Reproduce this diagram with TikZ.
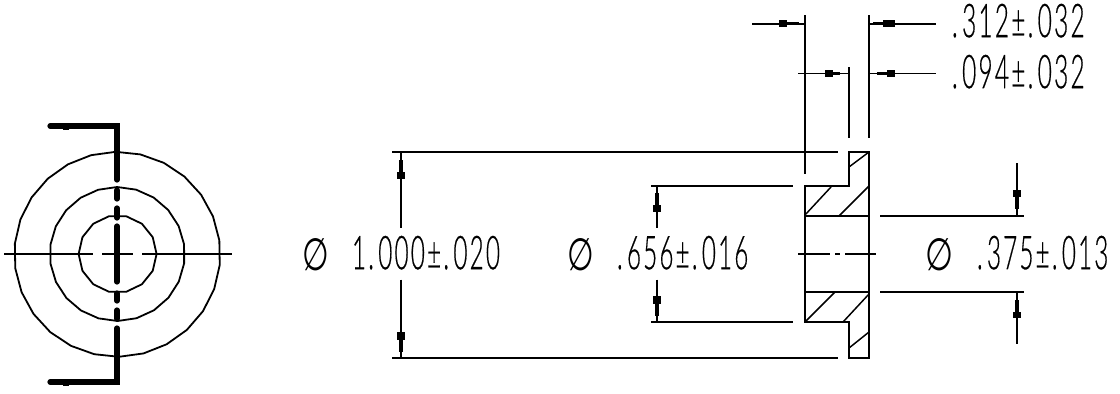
\documentclass[tikz,border=0pt]{standalone}
\usepackage{fontspec}
\usepackage{graphicx}
\setmainfont[LetterSpace=9,Numbers={Lining,Monospaced},FakeBold=0.6]{Lato Light}
\newfontfamily\symfont{DejaVu Sans}
\tikzset{
  px/.style={x=0.75pt,y=-0.75pt},
  thin line/.style={line width=1.35pt,line cap=butt,black},
  thick section/.style={line width=3.9pt,line cap=round,line join=miter,black},
  centre/.style={line width=1.25pt,black},
  hatch/.style={line width=1.1pt,black},
  lbl/.style={anchor=south west,inner sep=0pt,outer sep=0pt,black},
}
\newcommand{\vhead}[5]{%
  \fill (#1-4,#2) rectangle (#1+4,#3);
  \fill (#1-1.9,#4) rectangle (#1+1.9,#5);}
\newcommand{\hhead}[5]{%
  \fill (#2,#1-3.4) rectangle (#3,#1+3.4);
  \fill (#4,#1-1.6) rectangle (#5,#1+1.6);}
\newcommand{\dimtxt}[6]{% name,x,ybottom,w,h,text
  \node[lbl] (#1) at (#2,#3) {\resizebox{#4pt}{#5pt}{#6}};}
\newcommand{\dt}{.\kern0.18em}
\begin{document}
\begin{tikzpicture}[px]
\useasboundingbox (0,0) rectangle (1120,393);
\fill[white] (0,0) rectangle (1120,393);

% --- left view: faceted circles
\draw[thin line,line join=round] plot[samples=27,domain=6:366] ({117.3+103*cos(\x)},{254.3+102.5*sin(\x)}) -- cycle;
\draw[thin line,line join=round] plot[samples=23,domain=8:368] ({117.3+67.5*cos(\x)},{254+67*sin(\x)}) -- cycle;
\draw[thin line,line join=round] plot[samples=15,domain=0:360] ({117.6+39*cos(\x)},{254+38.7*sin(\x)}) -- cycle;
% centre line
\draw[centre] (4,254) -- (93,254) (102,254) -- (133,254) (142,254) -- (232,254);
% section line
\draw[thick section] (50,126) -- (117,126) -- (117,180);
\draw[thick section] (117,190) -- (117,199);
\draw[thick section] (117,208) -- (117,218);
\draw[thick section] (117,226) -- (117,282);
\draw[thick section] (117,293) -- (117,301);
\draw[thick section] (117,310) -- (117,319);
\draw[thick section] (117,328) -- (117,382) -- (50,382);
\fill (63,126) rectangle (69,129.5);
\fill (63,382) rectangle (69,385.5);

% --- right view: outline
\draw[thin line,line join=miter] (849,152) -- (869,152) -- (869,358) -- (849,358) -- (849,322) -- (805,322) -- (805,186) -- (849,186) -- cycle;
\draw[thin line] (805,216) -- (869,216) (805,292) -- (869,292);
\draw[hatch] (849,167) -- (869,152) (805,215) -- (831,187) (839,216) -- (869,186)
  (805,322) -- (835,292) (843,322) -- (869,294) (849,348) -- (869,332);
\draw[centre] (798,253.7) -- (830,253.7) (835,253.7) -- (840,253.7) (845,253.7) -- (876,253.7);

% --- extension and dimension lines
\draw[thin line] (392,152) -- (838,152) (392,358) -- (838,358);
\draw[thin line] (651,186) -- (793,186) (651,322) -- (793,322);
\draw[thin line] (880,216) -- (1024,216) (880,292) -- (1024,292);
\draw[thin line] (805,15) -- (805,174) (869,15) -- (869,138) (849,67) -- (849,138);
\draw[thin line] (752,23.7) -- (805,23.7) (869,23.7) -- (936,23.7);
\draw[thin line] (798,73.5) -- (849,73.5) (869,73.5) -- (936,73.5);
\draw[thin line] (400.7,152) -- (400.7,228) (400.7,279.5) -- (400.7,358);
\draw[thin line] (656.7,186) -- (656.7,228) (656.7,279.5) -- (656.7,322);
\draw[thin line] (1016.7,163) -- (1016.7,216) (1016.7,292) -- (1016.7,344);

\vhead{400.7}{172}{179}{160}{172}
\vhead{400.7}{332}{340}{340}{352}
\vhead{656.7}{205}{212}{193}{206}
\vhead{656.7}{296}{304}{304}{316}
\vhead{1016.7}{190}{197}{197}{209}
\vhead{1016.7}{312}{318}{300}{312}
\hhead{23.7}{779}{787}{787}{799}
\hhead{23.7}{883}{895}{873}{883}
\hhead{73.5}{825}{833}{833}{840}
\hhead{73.5}{887}{895}{877}{887}

% --- texts (sizes in pt, 1px = .75pt)
\dimtxt{t312}{952}{37.5}{99.5}{25}{\dt312±\dt032}
\dimtxt{t094}{952}{88.5}{99.5}{25}{\dt094±\dt032}
\dimtxt{t1000}{352}{269.5}{111}{25}{1\dt000±\dt020}
\dimtxt{t656}{617}{269.5}{98.5}{25}{\dt656±\dt016}
\dimtxt{t375}{977}{269.5}{98.5}{25}{\dt375±\dt013}
\dimtxt{p1}{302}{271}{20}{24}{\symfont ∅}
\dimtxt{p2}{567}{271}{20}{24}{\symfont ∅}
\dimtxt{p3}{925}{271}{21}{24}{\symfont ∅}
\end{tikzpicture}
\end{document}
